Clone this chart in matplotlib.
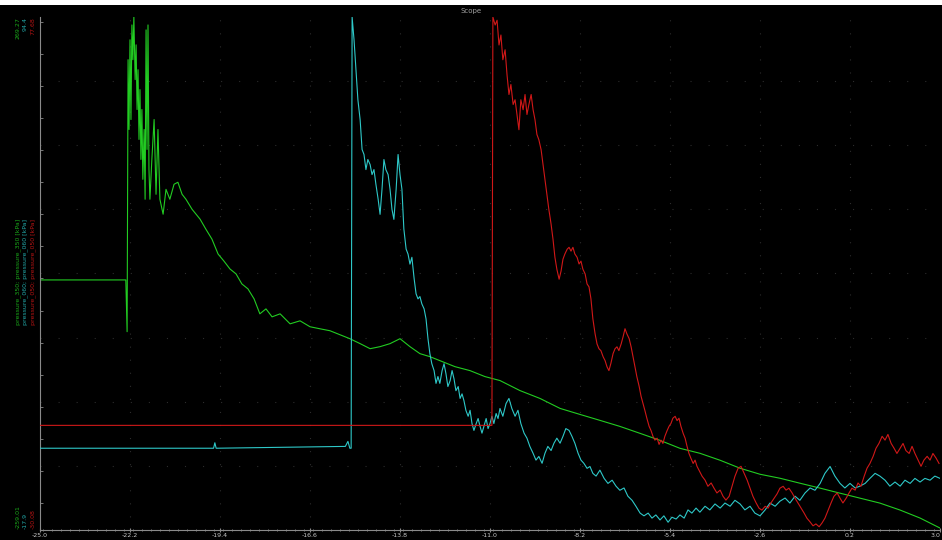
import matplotlib.pyplot as plt
from matplotlib.patches import Rectangle
from matplotlib.ticker import MultipleLocator

plt.rcParams['lines.scale_dashes'] = False

# channel scales (top / bottom labels of the scope)
green_range = (-259.01, 269.27)
cyan_range = (-17.9, 94.4)
red_range = (-30.08, 77.68)

# x ticks of the scope time axis
x_ticks = [-25.0, -22.2, -19.4, -16.6, -13.8, -11.0, -8.2, -5.4, -2.6, 0.2, 3.0]

# pressure_350 (green)
green_t = [-25.0, -22.33, -22.29, -22.26, -22.23, -22.20, -22.17, -22.14, -22.11, -22.08,
           -22.04, -22.01, -21.98, -21.95, -21.92, -21.89, -21.86, -21.83, -21.80, -21.76,
           -21.73, -21.70, -21.67, -21.64, -21.61, -21.58, -21.52, -21.45, -21.39, -21.33,
           -21.27, -21.17, -21.08, -20.96, -20.83, -20.71, -20.58, -20.46, -20.27, -20.02,
           -19.84, -19.65, -19.46, -19.28, -19.09, -18.90, -18.72, -18.53, -18.34, -18.16,
           -17.97, -17.78, -17.53, -17.22, -16.91, -16.60, -16.29, -15.98, -15.67, -15.36,
           -15.04, -14.73, -14.42, -14.11, -13.80, -13.49, -13.18, -12.87, -12.56, -12.09,
           -11.62, -11.16, -10.69, -10.07, -9.44, -8.82, -8.20, -7.58, -6.96, -6.33,
           -5.71, -5.09, -4.47, -3.84, -3.22, -2.60, -1.98, -1.36, -0.73, -0.11,
           0.51, 1.13, 1.76, 2.38, 3.00]
green_v = [-1.5, -1.5, -54.8, 225.3, 153.4, 245.8, 163.7, 261.1, 225.3, 269.3,
           204.8, 240.6, 174.0, 215.0, 143.2, 194.5, 122.6, 174.0, 102.1, 153.4,
           81.6, 256.0, 132.9, 261.1, 112.4, 81.6, 122.6, 163.7, 86.7, 153.4,
           81.6, 66.2, 91.8, 81.6, 97.0, 99.1, 86.7, 81.6, 71.3, 61.1,
           50.8, 40.5, 25.2, 18.0, 9.8, 4.7, -5.6, -10.7, -21.0, -36.4,
           -31.3, -39.5, -36.4, -46.7, -43.6, -49.7, -51.8, -53.8, -57.9, -62.0,
           -67.1, -72.3, -70.2, -67.1, -62.0, -70.2, -77.4, -80.5, -84.6, -90.8,
           -94.9, -101.0, -105.1, -115.4, -123.6, -133.8, -140.0, -146.1, -152.3, -159.5,
           -166.7, -174.9, -180.0, -187.2, -195.4, -201.6, -205.7, -210.8, -215.9, -221.1,
           -226.2, -231.3, -238.5, -246.7, -257.0]

# pressure_060 (cyan)
cyan_t = [-25.0, -19.60, -19.56, -19.52, -15.50, -15.42, -15.36, -15.32, -15.29, -15.23,
          -15.17, -15.11, -15.04, -14.98, -14.92, -14.86, -14.80, -14.73, -14.67, -14.61,
          -14.55, -14.48, -14.42, -14.36, -14.30, -14.24, -14.17, -14.11, -14.05, -13.99,
          -13.92, -13.86, -13.80, -13.74, -13.68, -13.61, -13.55, -13.49, -13.43, -13.36,
          -13.30, -13.24, -13.18, -13.12, -13.05, -12.99, -12.93, -12.87, -12.81, -12.74,
          -12.68, -12.62, -12.56, -12.49, -12.43, -12.37, -12.31, -12.24, -12.18, -12.12,
          -12.06, -11.99, -11.93, -11.87, -11.81, -11.75, -11.68, -11.62, -11.56, -11.50,
          -11.43, -11.37, -11.31, -11.25, -11.19, -11.12, -11.06, -11.00, -10.94, -10.88,
          -10.81, -10.75, -10.69, -10.60, -10.50, -10.41, -10.32, -10.22, -10.13, -10.04,
          -9.94, -9.85, -9.76, -9.66, -9.57, -9.48, -9.38, -9.29, -9.20, -9.10,
          -9.01, -8.92, -8.82, -8.73, -8.64, -8.54, -8.45, -8.36, -8.26, -8.17,
          -8.08, -7.98, -7.89, -7.80, -7.70, -7.58, -7.45, -7.33, -7.20, -7.08,
          -6.96, -6.83, -6.71, -6.58, -6.46, -6.33, -6.21, -6.08, -5.96, -5.84,
          -5.71, -5.59, -5.46, -5.34, -5.21, -5.09, -4.96, -4.84, -4.72, -4.59,
          -4.47, -4.31, -4.16, -4.00, -3.84, -3.69, -3.53, -3.38, -3.22, -3.07,
          -2.91, -2.76, -2.60, -2.44, -2.29, -2.13, -1.98, -1.82, -1.67, -1.51,
          -1.36, -1.20, -1.04, -0.89, -0.73, -0.58, -0.42, -0.27, -0.11, 0.04,
          0.20, 0.36, 0.51, 0.67, 0.82, 0.98, 1.13, 1.29, 1.44, 1.60,
          1.76, 1.91, 2.07, 2.22, 2.38, 2.53, 2.69, 2.84, 3.00]
cyan_v = [0.0, 0.0, 1.2, 0.0, 0.4, 1.5, 0.0, 0.0, 94.4, 89.4,
          82.8, 76.3, 71.9, 65.4, 64.3, 61.0, 63.2, 62.1, 59.9, 61.0,
          57.8, 54.5, 51.2, 56.7, 63.2, 61.0, 59.9, 56.7, 52.3, 50.1,
          56.7, 64.3, 59.9, 56.7, 48.0, 43.6, 42.5, 40.3, 41.8, 37.1,
          33.8, 32.7, 33.2, 31.6, 30.5, 28.3, 24.0, 20.7, 18.5, 17.0,
          14.2, 15.7, 14.2, 17.0, 18.5, 16.3, 13.5, 14.8, 17.0, 15.2,
          12.6, 13.5, 10.9, 11.9, 10.4, 8.3, 7.0, 8.3, 5.4, 3.9,
          5.4, 6.5, 4.8, 3.3, 4.8, 6.5, 4.3, 5.4, 7.0, 5.4,
          7.6, 6.5, 8.7, 7.0, 9.8, 10.9, 8.7, 7.0, 8.3, 5.4,
          3.3, 2.2, 0.4, -1.1, -2.6, -1.8, -3.3, -1.1, 0.4, -0.5,
          1.1, 2.2, 1.1, 2.6, 4.3, 3.9, 2.6, 1.1, -1.1, -2.6,
          -3.3, -4.4, -4.0, -5.5, -6.1, -4.8, -6.6, -7.7, -7.0, -8.3,
          -9.2, -8.7, -10.5, -11.4, -12.7, -14.2, -14.8, -14.2, -15.3, -14.6,
          -15.7, -14.8, -16.2, -15.1, -15.5, -14.6, -15.3, -13.5, -14.2, -13.1,
          -14.0, -12.7, -13.5, -12.2, -13.1, -12.0, -12.7, -11.4, -12.2, -13.5,
          -12.7, -14.2, -14.8, -13.5, -12.0, -12.7, -11.6, -10.9, -12.0, -10.5,
          -11.4, -9.8, -8.7, -9.2, -7.7, -5.5, -4.0, -6.1, -7.7, -8.7,
          -7.7, -8.7, -8.3, -7.7, -6.6, -5.5, -6.1, -7.0, -8.3, -7.4,
          -8.3, -7.0, -7.7, -6.6, -7.4, -6.6, -7.0, -6.1, -6.6]

# pressure_050 (red)
red_t = [-25.0, -10.94, -10.91, -10.84, -10.78, -10.72, -10.66, -10.60, -10.53, -10.47,
         -10.41, -10.35, -10.28, -10.22, -10.16, -10.10, -10.04, -9.97, -9.91, -9.85,
         -9.79, -9.72, -9.66, -9.60, -9.54, -9.48, -9.41, -9.35, -9.29, -9.23,
         -9.17, -9.10, -9.04, -8.98, -8.92, -8.85, -8.79, -8.73, -8.67, -8.60,
         -8.54, -8.48, -8.42, -8.36, -8.29, -8.23, -8.17, -8.11, -8.04, -7.98,
         -7.92, -7.86, -7.80, -7.73, -7.67, -7.61, -7.55, -7.48, -7.42, -7.36,
         -7.30, -7.24, -7.17, -7.11, -7.05, -6.99, -6.92, -6.86, -6.80, -6.74,
         -6.67, -6.61, -6.55, -6.49, -6.43, -6.36, -6.30, -6.24, -6.18, -6.12,
         -6.05, -5.99, -5.93, -5.87, -5.80, -5.74, -5.68, -5.62, -5.56, -5.49,
         -5.43, -5.37, -5.31, -5.24, -5.18, -5.12, -5.06, -4.99, -4.93, -4.87,
         -4.81, -4.75, -4.68, -4.62, -4.56, -4.50, -4.40, -4.31, -4.22, -4.12,
         -4.03, -3.94, -3.84, -3.75, -3.66, -3.56, -3.47, -3.38, -3.28, -3.19,
         -3.10, -3.00, -2.91, -2.82, -2.72, -2.63, -2.54, -2.44, -2.35, -2.26,
         -2.16, -2.07, -1.98, -1.88, -1.79, -1.70, -1.60, -1.51, -1.42, -1.32,
         -1.23, -1.14, -1.04, -0.95, -0.86, -0.76, -0.67, -0.58, -0.48, -0.39,
         -0.30, -0.20, -0.11, -0.02, 0.08, 0.17, 0.26, 0.36, 0.45, 0.54,
         0.64, 0.73, 0.82, 0.92, 1.01, 1.10, 1.20, 1.29, 1.38, 1.48,
         1.57, 1.66, 1.76, 1.85, 1.94, 2.04, 2.13, 2.22, 2.32, 2.41,
         2.50, 2.60, 2.69, 2.78, 2.88, 2.97]
red_v = [-8.1, -8.1, 77.68, 76.0, 77.0, 71.8, 73.9, 68.7, 70.8, 65.5,
         61.4, 63.5, 59.3, 60.3, 57.2, 54.0, 60.3, 58.2, 61.4, 57.2,
         59.3, 61.4, 58.2, 56.1, 53.0, 51.9, 49.8, 46.7, 43.6, 40.4,
         37.3, 34.2, 31.0, 27.2, 24.7, 22.6, 24.3, 26.8, 27.9, 28.9,
         29.3, 28.5, 29.3, 27.9, 27.2, 25.8, 26.4, 24.7, 23.7, 21.6,
         21.0, 18.5, 14.3, 11.1, 9.0, 8.0, 7.6, 6.3, 5.5, 4.2,
         3.4, 4.9, 7.0, 8.0, 8.4, 7.6, 9.0, 10.5, 12.2, 11.1,
         10.1, 8.4, 6.3, 4.2, 2.1, 0.1, -2.0, -3.5, -5.0, -6.6,
         -8.3, -9.2, -10.4, -11.2, -10.8, -12.1, -11.2, -11.9, -10.4, -9.2,
         -8.3, -7.7, -6.6, -6.2, -7.1, -6.6, -8.3, -9.8, -10.8, -12.5,
         -14.0, -15.0, -16.1, -15.4, -16.7, -17.5, -18.8, -19.6, -20.9, -20.2,
         -21.3, -22.3, -21.7, -23.0, -23.8, -23.0, -20.9, -18.8, -17.1, -16.7,
         -18.1, -19.6, -21.3, -23.0, -24.4, -25.5, -25.9, -25.1, -25.5, -24.4,
         -23.4, -22.5, -21.3, -20.9, -21.7, -21.3, -22.3, -23.4, -24.4, -25.5,
         -26.5, -27.6, -28.4, -29.2, -28.8, -29.4, -28.6, -27.6, -25.9, -24.4,
         -23.0, -22.3, -23.4, -24.4, -23.4, -22.3, -21.3, -21.7, -20.2, -20.9,
         -18.8, -17.1, -16.1, -14.6, -12.9, -11.9, -10.4, -11.2, -10.0, -11.9,
         -12.9, -14.0, -12.9, -11.9, -13.4, -14.0, -12.5, -14.0, -15.4, -16.7,
         -15.4, -14.6, -15.4, -14.0, -15.0, -16.1]

names = ['pressure_350; pressure_350 [kPa]',
         'pressure_060; pressure_060 [kPa]',
         'pressure_050; pressure_050 [kPa]']
colors = ['#22cc22', '#2ec8c8', '#d01818']
label_colors = ['#1aa81a', '#22a8a8', '#b81414']

W, H = 942, 540
fig = plt.figure(figsize=(W / 100, H / 100), dpi=100, facecolor='black')
fig.patches.append(Rectangle((0, 1 - 5 / H), 1, 5 / H, transform=fig.transFigure,
                             facecolor='white', edgecolor='none', zorder=-1))

rect = [40 / W, 10 / H, 900 / W, 513 / H]
ax = fig.add_axes(rect, facecolor='black')
ax2 = ax.twinx()
ax3 = ax.twinx()

series = [(ax, green_t, green_v, green_range),
          (ax2, cyan_t, cyan_v, cyan_range),
          (ax3, red_t, red_v, red_range)]
for (a, t, v, rng), c in zip(series, colors):
    a.plot(t, v, color=c, lw=0.8)
    a.set_ylim(rng)
    a.set_xlim(x_ticks[0], x_ticks[-1])
    for s in a.spines.values():
        s.set_visible(False)
    a.tick_params(right=False, labelright=False, left=False, labelleft=False)

# dotted scope grid
for i in range(1, 8):
    ax.axhline(green_range[0] + i * (green_range[1] - green_range[0]) / 8,
               color='#2c2c2c', lw=0.8, dashes=(0.8, 12.2), zorder=0)
for xt in x_ticks[1:-1]:
    ax.axvline(xt, color='#2c2c2c', lw=0.8, dashes=(0.8, 8.6), zorder=0)

ax.spines['left'].set_visible(True)
ax.spines['bottom'].set_visible(True)
ax.spines['left'].set_color('#8a8a8a')
ax.spines['bottom'].set_color('#8a8a8a')
ax.set_xticks(x_ticks)
ax.set_xticklabels([f'{x:.1f}' for x in x_ticks])
ax.get_xticklabels()[-1].set_horizontalalignment('right')
ax.xaxis.set_minor_locator(MultipleLocator(0.28))
ax.tick_params(axis='x', which='major', colors='#8a8a8a', labelcolor='#c8c8c8',
               direction='inout', length=3, width=0.8, labelsize=4.5, pad=0.5)
ax.tick_params(axis='x', which='minor', colors='#8a8a8a', direction='inout',
               length=2, width=0.6)
ax.yaxis.set_minor_locator(MultipleLocator((green_range[1] - green_range[0]) / 16))
ax.set_yticks([])
ax.tick_params(axis='y', which='minor', left=True, colors='#8a8a8a',
               direction='in', length=2, width=0.6)

ax.text(0.5, 1 - 11 / H, 'Scope', transform=fig.transFigure, ha='center',
        va='center', color='#a0a0a0', fontsize=5)

# channel labels along the left edge
xs = [18, 25, 33]
for i, (x, rng, name) in enumerate(zip(xs, [green_range, cyan_range, red_range], names)):
    c = label_colors[i]
    top = f'{rng[1]:g}' if i != 1 else '94.4'
    fig.text(x / W, 1 - 17 / H, top, rotation=90, ha='center', va='top',
             color=c, fontsize=4.5)
    fig.text(x / W, 1 - 529 / H, f'{rng[0]:g}', rotation=90, ha='center',
             va='bottom', color=c, fontsize=4.5)
    fig.text(x / W, 1 - 272 / H, name, rotation=90, ha='center', va='center',
             color=c, fontsize=4.5)

fig.savefig('out.png', dpi=100, facecolor='black')
